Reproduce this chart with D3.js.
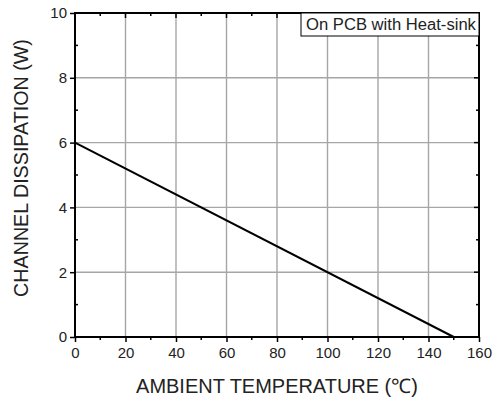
<!DOCTYPE html>
<html><head><meta charset="utf-8">
<script src="https://cdn.jsdelivr.net/npm/d3@7"></script>
<style>body{margin:0;background:#fff;} svg{display:block;}</style>
</head><body>
<svg id="c" width="496" height="401"></svg>
<script>
const tempC = [0, 150];
const dissipationW = [6, 0];
const xTicks = [0, 20, 40, 60, 80, 100, 120, 140, 160];
const yTicks = [0, 2, 4, 6, 8, 10];
const xMinor = [10, 30, 50, 70, 90, 110, 130, 150];
const yMinor = [1, 3, 5, 7, 9];
const legendText = "On PCB with Heat-sink";
const xTitle = "AMBIENT TEMPERATURE (℃)";
const yTitle = "CHANNEL DISSIPATION (W)";

const L = 75, R = 479, T = 13, B = 337;
const svg = d3.select("#c");
const x = d3.scaleLinear().domain([0, 160]).range([L, R]);
const y = d3.scaleLinear().domain([0, 10]).range([B, T]);
const font = "Arial, 'Liberation Sans', sans-serif";

function fitText(sel, base, target) {
  sel.attr("font-size", base);
  const len = sel.node().getComputedTextLength();
  sel.attr("font-size", base * target / len);
}

// grid
const g = svg.append("g");
g.selectAll(".gx").data(xTicks.slice(1, -1)).join("line")
  .attr("x1", d => x(d)).attr("x2", d => x(d)).attr("y1", T).attr("y2", B)
  .attr("stroke", "#a6a6a6").attr("stroke-width", 1.4);
g.selectAll(".gy").data(yTicks.slice(1, -1)).join("line")
  .attr("x1", L).attr("x2", R).attr("y1", d => y(d)).attr("y2", d => y(d))
  .attr("stroke", "#a6a6a6").attr("stroke-width", 1.4);

// axes
const axB = d3.axisBottom(x).tickValues(xTicks).tickSize(5).tickPadding(5);
const axL = d3.axisLeft(y).tickValues(yTicks).tickSize(5).tickPadding(3);
const bx = svg.append("g").attr("transform", `translate(0,${B})`).call(axB);
const ly = svg.append("g").attr("transform", `translate(${L},0)`).call(axL);
[bx, ly].forEach(a => {
  a.select(".domain").remove();
  a.selectAll("line").attr("stroke", "#000").attr("stroke-width", 1.5);
  a.selectAll("text").attr("font-family", font).attr("font-size", 15).attr("fill", "#222");
});
// minor ticks
svg.append("g").selectAll("line").data(xMinor).join("line")
  .attr("x1", d => x(d)).attr("x2", d => x(d)).attr("y1", B).attr("y2", B + 3)
  .attr("stroke", "#000").attr("stroke-width", 1.5);
svg.append("g").selectAll("line").data(yMinor).join("line")
  .attr("x1", L).attr("x2", L + 3).attr("y1", d => y(d)).attr("y2", d => y(d))
  .attr("stroke", "#000").attr("stroke-width", 1.5);
// top ticks (inward)
svg.append("g").selectAll("line").data(xTicks.concat(xMinor)).join("line")
  .attr("x1", d => x(d)).attr("x2", d => x(d)).attr("y1", T)
  .attr("y2", d => T + (d % 20 === 0 ? 5 : 3))
  .attr("stroke", "#000").attr("stroke-width", 1.5);
// right ticks (inward)
svg.append("g").selectAll("line").data(yTicks.concat(yMinor)).join("line")
  .attr("x1", R).attr("x2", d => R - (d % 2 === 0 ? 5 : 3))
  .attr("y1", d => y(d)).attr("y2", d => y(d))
  .attr("stroke", "#000").attr("stroke-width", 1.5);

// frame
svg.append("rect").attr("x", L).attr("y", T).attr("width", R - L).attr("height", B - T)
  .attr("fill", "none").attr("stroke", "#000").attr("stroke-width", 2);

// data line
svg.append("path").datum(tempC.map((t, i) => [t, dissipationW[i]]))
  .attr("d", d3.line().x(d => x(d[0])).y(d => y(d[1])))
  .attr("fill", "none").attr("stroke", "#000").attr("stroke-width", 2);

// legend
const lg = svg.append("g");
lg.append("rect").attr("x", 301).attr("y", T).attr("width", R - 301).attr("height", 23)
  .attr("fill", "#fff").attr("stroke", "#000").attr("stroke-width", 1);
const lt = lg.append("text").attr("x", (301 + R) / 2 + 1).attr("y", 30).attr("text-anchor", "middle")
  .attr("font-family", font).attr("fill", "#222").text(legendText);
fitText(lt, 14, 170);

// titles
const xt = svg.append("text").attr("x", x(80)).attr("y", 393).attr("text-anchor", "middle")
  .attr("font-family", font).attr("fill", "#222").text(xTitle);
fitText(xt, 17, 282);
const yt = svg.append("text").attr("transform", `translate(28,${(38 + 298) / 2}) rotate(-90)`)
  .attr("text-anchor", "middle")
  .attr("font-family", font).attr("fill", "#222").text(yTitle);
fitText(yt, 17, 258);
</script>
</body></html>
